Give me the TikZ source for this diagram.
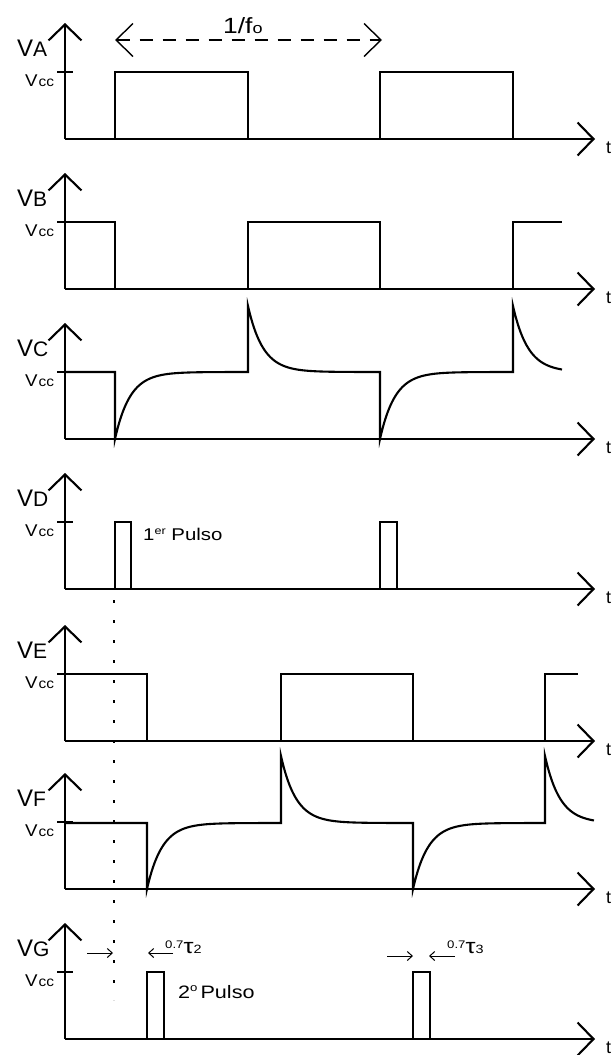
\documentclass[tikz,border=0pt]{standalone}
\usepackage{fontspec}
\setmainfont{Liberation Sans}
\newfontfamily\widefont{Liberation Sans}[FakeStretch=1.2]
\newfontfamily\midfont{Liberation Sans}[FakeStretch=1.1]
\usetikzlibrary{arrows.meta}
\tikzset{
  axisline/.style={line width=2.1pt, -{Straight Barb[length=16pt,width=33pt]}},
  wave/.style={line width=2.1pt, line join=miter},
  tickline/.style={line width=2.1pt},
  smallarrow/.style={line width=1pt, -{Straight Barb[length=5pt,width=9pt]}},
  periodarrow/.style={line width=1.4pt, dash pattern=on 13pt off 10pt, {Straight Barb[length=17pt,width=33pt]}-{Straight Barb[length=17pt,width=33pt]}},
  dotline/.style={line width=1.2pt, dash pattern=on 2.5pt off 17.5pt},
  lab/.style={inner sep=0pt, anchor=base west},
}
\newcommand{\mypanel}[3]{%
  \coordinate (o#2) at (65,#1);
  \coordinate (top#2) at (65,#1-116);
  \coordinate (end#2) at (595,#1);
  \draw[axisline] (o#2) -- (top#2);
  \draw[axisline] (o#2) -- (end#2);
  \draw[tickline] (57,#1-67) -- (73,#1-67);
  \node[lab] (v#2) at (17,#1-83) {\fontsize{24}{24}\selectfont V\fontsize{21}{21}\selectfont #3};
  \node[lab] (vcc#2) at (25,#1-53) {\midfont\fontsize{17}{17}\selectfont V\kern1pt\fontsize{14}{14}\selectfont cc};
  \node[lab] (t#2) at (606,#1+14) {\fontsize{18}{18}\selectfont t};
}
\begin{document}
\begin{tikzpicture}[x=1pt,y=-1pt]
\useasboundingbox (0,0) rectangle (614,1055);
\fill[white] (0,0) rectangle (614,1055);

% ---------- A ----------
\mypanel{139}{A}{A}
\draw[wave] (115,139) -- (115,72) -- (248,72) -- (248,139);
\draw[wave] (380,139) -- (380,72) -- (513,72) -- (513,139);
\draw[periodarrow] (115,40) -- (382,40);
\node[lab] (period) at (223,33) {\widefont\fontsize{22}{22}\selectfont 1/f\fontsize{15}{15}\selectfont o};

% ---------- B ----------
\mypanel{289}{B}{B}
\draw[wave] (65,222) -- (115,222) -- (115,289);
\draw[wave] (248,289) -- (248,222) -- (380,222) -- (380,289);
\draw[wave] (513,289) -- (513,222) -- (562,222);

% ---------- C ----------
\mypanel{439}{C}{C}
\draw[wave] (65,372) -- (115,372) -- (115,439)
  -- plot[domain=0:133, samples=90] ({115+\x},{372+67*exp(-\x/15)})
  -- (248,306)
  -- plot[domain=0:132, samples=90] ({248+\x},{372-66*exp(-\x/15)})
  -- (380,439)
  -- plot[domain=0:133, samples=90] ({380+\x},{372+67*exp(-\x/15)})
  -- (513,306)
  -- plot[domain=0:49, samples=40] ({513+\x},{372-66*exp(-\x/15)});

% ---------- D ----------
\mypanel{589}{D}{D}
\draw[wave] (115,589) -- (115,522) -- (131,522) -- (131,589);
\draw[wave] (380,589) -- (380,522) -- (397,522) -- (397,589);
\node[lab] (pulse1) at (143,540) {\widefont\fontsize{17}{17}\selectfont 1\raisebox{6pt}{\fontsize{10.5}{10.5}\selectfont er} Pulso};

% ---------- E ----------
\mypanel{741}{E}{E}
\draw[wave] (65,674) -- (147,674) -- (147,741);
\draw[wave] (281,741) -- (281,674) -- (413,674) -- (413,741);
\draw[wave] (545,741) -- (545,674) -- (578,674);

% ---------- F ----------
\mypanel{889}{F}{F}
\draw[wave] (65,823) -- (147,823) -- (147,889)
  -- plot[domain=0:134, samples=90] ({147+\x},{823+66*exp(-\x/15)})
  -- (281,756)
  -- plot[domain=0:132, samples=90] ({281+\x},{823-67*exp(-\x/15)})
  -- (413,889)
  -- plot[domain=0:132, samples=90] ({413+\x},{823+66*exp(-\x/15)})
  -- (545,756)
  -- plot[domain=0:49, samples=40] ({545+\x},{823-67*exp(-\x/15)});

% ---------- G ----------
\mypanel{1039}{G}{G}
\draw[wave] (147,1039) -- (147,972) -- (164,972) -- (164,1039);
\draw[wave] (413,1039) -- (413,972) -- (430,972) -- (430,1039);
\node[lab] (pulse2) at (178,998) {\widefont\fontsize{18}{18}\selectfont 2\raisebox{7pt}{\fontsize{11}{11}\selectfont o}\kern3pt Pulso};
\draw[smallarrow] (87,953) -- (113,953);
\draw[smallarrow] (173,953) -- (148,953);
\node[lab] (tau2) at (165,953) {\widefont\raisebox{5pt}{\fontsize{11}{11}\selectfont 0.7}\fontsize{21}{21}\selectfont τ\fontsize{12}{12}\selectfont 2};
\draw[smallarrow] (387,956) -- (413,956);
\draw[smallarrow] (455,956) -- (429,956);
\node[lab] (tau3) at (447,953) {\widefont\raisebox{5pt}{\fontsize{11}{11}\selectfont 0.7}\fontsize{21}{21}\selectfont τ\fontsize{12}{12}\selectfont 3};

% dotted marker line
\draw[dotline] (114,600) -- (114,1000);
\end{tikzpicture}
\end{document}
